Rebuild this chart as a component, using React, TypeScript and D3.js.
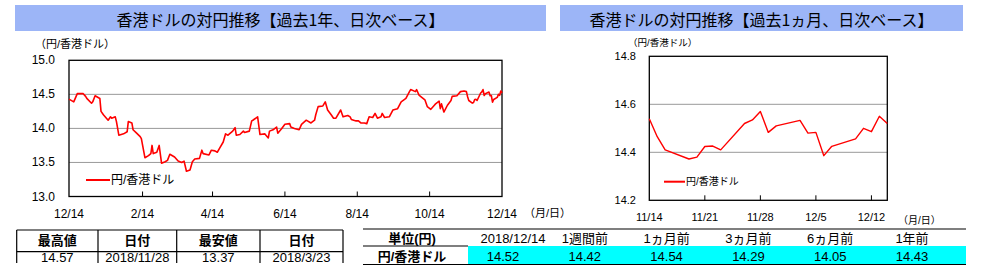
import React from "react";
import * as d3 from "d3";

// ---------- data ----------
const yearDates = [
  "2017-12-14","2017-12-18","2017-12-21","2017-12-26","2017-12-28","2017-12-29","2018-01-02","2018-01-03","2018-01-05","2018-01-09",
  "2018-01-10","2018-01-12","2018-01-16","2018-01-18","2018-01-19","2018-01-22","2018-01-23","2018-01-25","2018-01-29","2018-02-01",
  "2018-02-02","2018-02-05","2018-02-06","2018-02-09","2018-02-12","2018-02-13","2018-02-16","2018-02-19","2018-02-21","2018-02-22",
  "2018-02-23","2018-02-26","2018-02-28","2018-03-02","2018-03-05","2018-03-07","2018-03-09","2018-03-13","2018-03-16","2018-03-19",
  "2018-03-21","2018-03-23","2018-03-26","2018-03-28","2018-03-30","2018-04-03","2018-04-05","2018-04-06","2018-04-11","2018-04-13",
  "2018-04-16","2018-04-18","2018-04-20","2018-04-23","2018-04-25","2018-04-27","2018-05-01","2018-05-03","2018-05-04","2018-05-07",
  "2018-05-10","2018-05-11","2018-05-15","2018-05-17","2018-05-18","2018-05-22","2018-05-24","2018-05-28","2018-05-29","2018-05-31",
  "2018-06-01","2018-06-04","2018-06-07","2018-06-08","2018-06-11","2018-06-14","2018-06-18","2018-06-19","2018-06-22","2018-06-26",
  "2018-06-28","2018-07-02","2018-07-03","2018-07-06","2018-07-09","2018-07-10","2018-07-12","2018-07-16","2018-07-18","2018-07-20",
  "2018-07-23","2018-07-25","2018-07-27","2018-07-31","2018-08-02","2018-08-06","2018-08-08","2018-08-09","2018-08-13","2018-08-15",
  "2018-08-17","2018-08-20","2018-08-22","2018-08-24","2018-08-27","2018-08-29","2018-08-31","2018-09-03","2018-09-04","2018-09-06",
  "2018-09-10","2018-09-13","2018-09-17","2018-09-20","2018-09-24","2018-09-27","2018-09-28","2018-10-02","2018-10-03","2018-10-05",
  "2018-10-10","2018-10-12","2018-10-15","2018-10-18","2018-10-19","2018-10-22","2018-10-23","2018-10-24","2018-10-26","2018-10-29",
  "2018-11-01","2018-11-02","2018-11-06","2018-11-09","2018-11-12",
];
const yearValues = [
  14.43,14.39,14.51,14.51,14.47,14.44,14.37,14.39,14.48,14.44,
  14.25,14.20,14.12,14.17,14.15,14.17,14.10,13.90,13.92,13.95,
  14.10,14.08,13.98,13.93,13.88,13.85,13.57,13.60,13.63,13.75,
  13.63,13.65,13.75,13.49,13.51,13.53,13.62,13.58,13.52,13.50,
  13.52,13.37,13.39,13.51,13.55,13.56,13.68,13.63,13.61,13.68,
  13.67,13.65,13.71,13.80,13.92,13.90,13.96,14.01,13.90,13.91,
  13.96,13.94,13.96,14.11,14.12,14.17,13.91,13.92,13.90,13.86,
  13.96,13.98,14.02,13.93,13.99,14.06,14.07,14.02,14.00,13.98,
  14.06,14.12,14.11,14.08,14.12,14.20,14.32,14.33,14.39,14.27,
  14.20,14.15,14.15,14.27,14.17,14.19,14.17,14.13,14.11,14.11,
  14.08,14.08,14.07,14.17,14.16,14.22,14.15,14.17,14.22,14.16,
  14.17,14.27,14.29,14.39,14.44,14.54,14.57,14.54,14.57,14.49,
  14.42,14.32,14.28,14.34,14.36,14.40,14.29,14.36,14.24,14.34,
  14.41,14.47,14.48,14.54,14.55,
];
const monthDates = [
  "2018-11-14","2018-11-15","2018-11-16","2018-11-19","2018-11-20","2018-11-21","2018-11-22","2018-11-23",
  "2018-11-26","2018-11-27","2018-11-28","2018-11-29","2018-11-30","2018-12-03","2018-12-04","2018-12-05",
  "2018-12-06","2018-12-07","2018-12-10","2018-12-11","2018-12-12","2018-12-13","2018-12-14",
];
const monthValues = [
  14.54,14.465,14.41,14.372,14.38,14.424,14.426,14.41,
  14.52,14.535,14.57,14.483,14.51,14.533,14.48,14.483,
  14.386,14.425,14.456,14.50,14.486,14.55,14.52,
];

const yearTickDates = ["2017-12-14","2018-02-14","2018-04-14","2018-06-14","2018-08-14","2018-10-14","2018-12-14"];
const yearTickLabels = ["12/14","2/14","4/14","6/14","8/14","10/14","12/14"];
const yearYTicks = [13.0, 13.5, 14.0, 14.5, 15.0];
const yearGrid = [13.5, 14.0, 14.5];

const monthTickDates = ["2018-11-14","2018-11-21","2018-11-28","2018-12-05","2018-12-12"];
const monthTickLabels = ["11/14","11/21","11/28","12/5","12/12"];
const monthYTicks = [14.2, 14.4, 14.6, 14.8];
const monthGrid = [14.4, 14.6];

const leftTableHeaders = ["最高値", "日付", "最安値", "日付"];
const leftTableValues = ["14.57", "2018/11/28", "13.37", "2018/3/23"];

const rightTableHeaders = ["単位(円)", "2018/12/14", "1週間前", "1ヵ月前", "3ヵ月前", "6ヵ月前", "1年前"];
const rightTableRowLabel = "円/香港ドル";
const rightTableValues = ["14.52", "14.42", "14.54", "14.29", "14.05", "14.43"];

const seriesName = "円/香港ドル";
const unitLabel = "（円/香港ドル）";
const dateUnit = "（月/日）";
const titleYear = "香港ドルの対円推移【過去1年、日次ベース】";
const titleMonth = "香港ドルの対円推移【過去1ヵ月、日次ベース】";

// ---------- helpers ----------
const parse = d3.timeParse("%Y-%m-%d");
const FONT = "'Liberation Sans', Arial, 'Noto Sans CJK JP', sans-serif";
const JFONT = "'Noto Sans CJK JP', 'Liberation Sans', sans-serif";
const BANNER = "#9CB5F7";

type Pt = { d: Date; v: number };

export default function App() {
  const yearData: Pt[] = yearDates
    .map((s, i) => ({ d: parse(s) as Date, v: yearValues[i] }))
    .concat(monthDates.map((s, i) => ({ d: parse(s) as Date, v: monthValues[i] })));
  const monthData: Pt[] = monthDates.map((s, i) => ({ d: parse(s) as Date, v: monthValues[i] }));

  // left chart scales
  const lx = d3.scaleTime().domain([parse("2017-12-14") as Date, parse("2018-12-14") as Date]).range([69, 502]);
  const ly = d3.scaleLinear().domain([13, 15]).range([196.5, 60.3]);
  // right chart scales
  const rx = d3.scaleTime().domain([parse("2018-11-14") as Date, parse("2018-12-14") as Date]).range([649.3, 887.3]);
  const ry = d3.scaleLinear().domain([14.2, 14.8]).range([200.3, 56.3]);

  const lLine = d3.line<Pt>().x(p => lx(p.d)).y(p => ly(p.v));
  const rLine = d3.line<Pt>().x(p => rx(p.d)).y(p => ry(p.v));

  // right table columns
  const rtColX = (i: number) => 503 + i * 81.8;

  return (
    <svg width={982} height={275} style={{ position: "absolute", left: 0, top: 0, background: "#fff" }}>
      {/* banners */}
      <rect x={15} y={5} width={531} height={26} fill={BANNER} />
      <text x={280.5} y={19} textAnchor="middle" dominantBaseline="central" fontFamily={JFONT} fontSize={16} fill="#000">{titleYear}</text>
      <rect x={560} y={5} width={403} height={26} fill={BANNER} />
      <text x={761.5} y={19} textAnchor="middle" dominantBaseline="central" fontFamily={JFONT} fontSize={16} fill="#000">{titleMonth}</text>

      {/* ===== left chart ===== */}
      <text x={35} y={44} dominantBaseline="central" fontFamily={FONT} fontSize={11}>{unitLabel}</text>
      {yearGrid.map(v => (
        <line key={v} x1={69} x2={502} y1={ly(v)} y2={ly(v)} stroke="#999" strokeWidth={1} />
      ))}
      <rect x={69} y={60.3} width={433} height={136.2} fill="none" stroke="#000" strokeWidth={1.3} />
      {yearTickDates.slice(1, -1).map(s => (
        <line key={s} x1={lx(parse(s) as Date)} x2={lx(parse(s) as Date)} y1={196.5} y2={191.5} stroke="#000" strokeWidth={1} />
      ))}
      {yearYTicks.map(v => (
        <text key={v} x={55} y={ly(v)} textAnchor="end" dominantBaseline="central" fontFamily={FONT} fontSize={12}>{v.toFixed(1)}</text>
      ))}
      {yearTickDates.map((s, i) => (
        <text key={s + i} x={lx(parse(s) as Date)} y={214} textAnchor="middle" dominantBaseline="central" fontFamily={FONT} fontSize={12}>{yearTickLabels[i]}</text>
      ))}
      <text x={524} y={213} dominantBaseline="central" fontFamily={FONT} fontSize={11}>{dateUnit}</text>
      <path d={lLine(yearData) || ""} fill="none" stroke="#FF0000" strokeWidth={1.6} strokeLinejoin="round" />
      <line x1={86} x2={110} y1={180} y2={180} stroke="#FF0000" strokeWidth={2} />
      <text x={111} y={180} dominantBaseline="central" fontFamily={FONT} fontSize={12}>{seriesName}</text>

      {/* ===== right chart ===== */}
      <text x={628} y={42} dominantBaseline="central" fontFamily={FONT} fontSize={9.5}>{unitLabel}</text>
      {monthGrid.map(v => (
        <line key={v} x1={649.3} x2={887.3} y1={ry(v)} y2={ry(v)} stroke="#999" strokeWidth={1} />
      ))}
      <rect x={649.3} y={56.3} width={238} height={144} fill="none" stroke="#000" strokeWidth={1.3} />
      {monthTickDates.slice(1).map(s => (
        <line key={s} x1={rx(parse(s) as Date)} x2={rx(parse(s) as Date)} y1={200.3} y2={195.3} stroke="#000" strokeWidth={1} />
      ))}
      {monthYTicks.map(v => (
        <text key={v} x={636} y={ry(v)} textAnchor="end" dominantBaseline="central" fontFamily={FONT} fontSize={11}>{v.toFixed(1)}</text>
      ))}
      {monthTickDates.map((s, i) => (
        <text key={s} x={rx(parse(s) as Date)} y={216.5} textAnchor="middle" dominantBaseline="central" fontFamily={FONT} fontSize={11}>{monthTickLabels[i]}</text>
      ))}
      <text x={898} y={220} dominantBaseline="central" fontFamily={FONT} fontSize={10}>{dateUnit}</text>
      <path d={rLine(monthData) || ""} fill="none" stroke="#FF0000" strokeWidth={1.4} strokeLinejoin="round" />
      <line x1={664} x2={685} y1={181.7} y2={181.7} stroke="#FF0000" strokeWidth={2} />
      <text x={686} y={181.7} dominantBaseline="central" fontFamily={FONT} fontSize={10}>{seriesName}</text>

      {/* ===== left table ===== */}
      <line x1={16.7} x2={343} y1={230} y2={230} stroke="#000" strokeWidth={1.2} />
      <line x1={16.7} x2={343} y1={251.7} y2={251.7} stroke="#000" strokeWidth={1.2} />
      {[16.7, 98, 176.7, 260, 343].map(x => (
        <line key={x} x1={x} x2={x} y1={230} y2={263} stroke="#000" strokeWidth={1.2} />
      ))}
      {leftTableHeaders.map((t, i) => {
        const xs = [16.7, 98, 176.7, 260, 343];
        return (
          <text key={"h" + i} x={(xs[i] + xs[i + 1]) / 2} y={240.5} textAnchor="middle" dominantBaseline="central" fontFamily={FONT} fontSize={13} fontWeight="bold">{t}</text>
        );
      })}
      {leftTableValues.map((t, i) => {
        const xs = [16.7, 98, 176.7, 260, 343];
        return (
          <text key={"v" + i} x={(xs[i] + xs[i + 1]) / 2} y={257} textAnchor="middle" dominantBaseline="central" fontFamily={FONT} fontSize={13}>{t}</text>
        );
      })}

      {/* ===== right table ===== */}
      <line x1={363} x2={966} y1={229} y2={229} stroke="#000" strokeWidth={1.2} />
      <rect x={468} y={246} width={498} height={18} fill="#00FFFF" />
      <line x1={363} x2={468} y1={246} y2={246} stroke="#000" strokeWidth={1.2} />
      <line x1={363} x2={966} y1={264.5} y2={264.5} stroke="#000" strokeWidth={1.2} />
      <text x={412} y={238} textAnchor="middle" dominantBaseline="central" fontFamily={FONT} fontSize={13} fontWeight="bold">{rightTableHeaders[0]}</text>
      {rightTableHeaders.slice(1).map((t, i) => (
        <text key={"rh" + i} x={rtColX(i) + (i === 0 ? 10 : 0)} y={238} textAnchor="middle" dominantBaseline="central" fontFamily={FONT} fontSize={13}>{t}</text>
      ))}
      <text x={412} y={256} textAnchor="middle" dominantBaseline="central" fontFamily={FONT} fontSize={13} fontWeight="bold">{rightTableRowLabel}</text>
      {rightTableValues.map((t, i) => (
        <text key={"rv" + i} x={rtColX(i)} y={256} textAnchor="middle" dominantBaseline="central" fontFamily={FONT} fontSize={13}>{t}</text>
      ))}
    </svg>
  );
}
